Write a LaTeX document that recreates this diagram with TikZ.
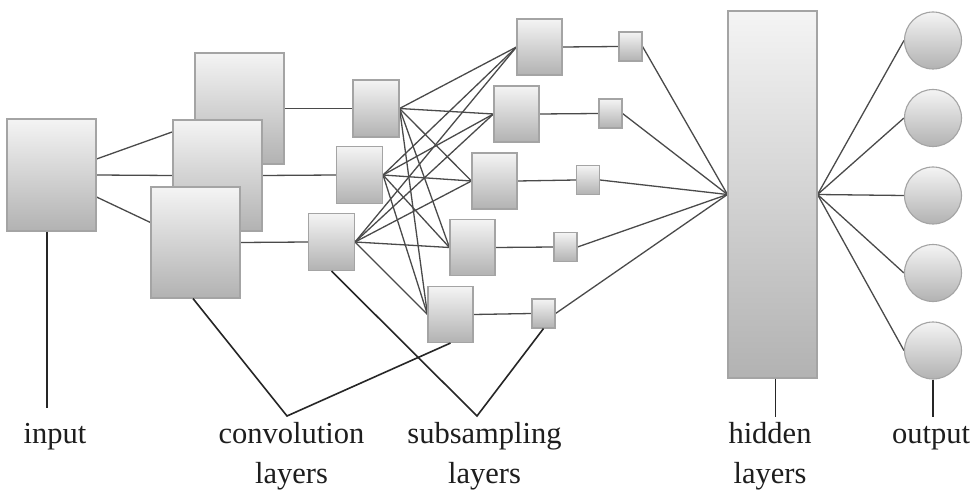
\documentclass[tikz,border=0pt]{standalone}
\usepackage{fontspec}
\setmainfont{Liberation Serif}
\usetikzlibrary{backgrounds}
\definecolor{boxedge}{HTML}{A4A4A4}
\definecolor{boxtop}{HTML}{F4F4F4}
\definecolor{boxbot}{HTML}{B2B2B2}
\definecolor{linkc}{HTML}{4A4A4A}
\definecolor{ptrc}{HTML}{262626}
\definecolor{textc}{HTML}{1E1E1E}
\begin{document}
\begin{tikzpicture}[x=1pt,y=-1pt,
  box/.style={rectangle,draw=boxedge,line width=1.1pt,top color=boxtop,bottom color=boxbot,inner sep=0pt},
  bigbox/.style={box,minimum width=89pt,minimum height=111pt},
  midbox/.style={box,minimum width=46pt,minimum height=57pt},
  subbox/.style={box,minimum width=45pt,minimum height=56pt},
  smallbox/.style={box,minimum width=23pt,minimum height=29pt},
  neuron/.style={circle,draw=boxedge,line width=1.1pt,top color=boxtop,bottom color=boxbot,inner sep=0pt,minimum size=57pt},
  link/.style={draw=linkc,line width=1.3pt},
  pointer/.style={draw=ptrc,line width=1.6pt},
  lbl/.style={anchor=base,inner sep=0pt,font=\fontsize{30.5}{40}\selectfont,text=textc}]
\useasboundingbox (0,0) rectangle (978,500);

% input
\node[box,minimum width=89pt,minimum height=112pt] (input) at (51.5,175) {};
% convolution layer 1
\node[bigbox] (C1) at (239.5,108.5) {};
\node[bigbox] (C2) at (217.5,175.5) {};
\node[bigbox] (C3) at (195.5,242.5) {};
% convolution layer 2
\node[midbox] (D1) at (376,108.5) {};
\node[midbox] (D2) at (359.5,175) {};
\node[midbox] (D3) at (331.5,242) {};
% subsampling
\node[subbox] (S1) at (539.5,47) {};
\node[subbox] (S2) at (516.5,114) {};
\node[subbox] (S3) at (494.5,181) {};
\node[subbox] (S4) at (472.5,247.5) {};
\node[subbox] (S5) at (450.5,314.5) {};
% small subsampling
\node[smallbox] (P1) at (630.5,46.5) {};
\node[smallbox] (P2) at (610.5,113.5) {};
\node[smallbox] (P3) at (588,180) {};
\node[smallbox] (P4) at (565.5,247) {};
\node[smallbox] (P5) at (543.5,313.5) {};
% hidden
\node[box,minimum width=89pt,minimum height=367pt] (H) at (772.5,194.5) {};
% output
\node[neuron] (O1) at (933,40.5) {};
\node[neuron] (O2) at (933,118) {};
\node[neuron] (O3) at (933,195.5) {};
\node[neuron] (O4) at (933,273) {};
\node[neuron] (O5) at (933,350.5) {};

% labels
\node[lbl] (tin) at (55,443) {input};
\node[lbl] (tconvA) at (291.5,443) {convolution};
\node[lbl] (tconvB) at (291.5,483) {layers};
\node[lbl] (tsubA) at (484.5,443) {subsampling};
\node[lbl] (tsubB) at (484.5,483) {layers};
\node[lbl] (thidA) at (770,443) {hidden};
\node[lbl] (thidB) at (770,483) {layers};
\node[lbl] (tout) at (931,443) {output};

\coordinate (inEnd) at (47,408);
\coordinate (convV) at (287,416);
\coordinate (subV) at (477,416);
\coordinate (hidEnd) at (775.5,417);
\coordinate (outEnd) at (933,417);

\begin{scope}[on background layer]
\fill[white] (0,0) rectangle (978,500);
\draw[link] ([yshift=16pt]input.east) -- ([yshift=-15.5pt]C1.west);
\draw[link] (input.east) -- (C2.west);
\draw[link] ([yshift=-22pt]input.east) -- ([yshift=20pt]C3.west);
\draw[link] (C1.east) -- (D1.west);
\draw[link] (C2.east) -- (D2.west);
\draw[link] (C3.east) -- (D3.west);
\foreach \d in {D1,D2,D3}
  \foreach \s in {S1,S2,S3,S4,S5}
    \draw[link] (\d.east) -- (\s.west);
\foreach \i in {1,...,5} {
  \draw[link] (S\i.east) -- (P\i.west);
  \draw[link] (P\i.east) -- (H.west);
  \draw[link] (H.east) -- (O\i.west);
}
\end{scope}

% pointer lines
\draw[pointer] ([xshift=-4.5pt]input.south) -- (inEnd);
\draw[pointer] ([xshift=-2.5pt]C3.south) -- (convV) -- (S5.south);
\draw[pointer] (D3.south) -- (subV) -- (P5.south);
\draw[pointer] ([xshift=3pt]H.south) -- (hidEnd);
\draw[pointer] (O5.south) -- (outEnd);
\end{tikzpicture}
\end{document}
